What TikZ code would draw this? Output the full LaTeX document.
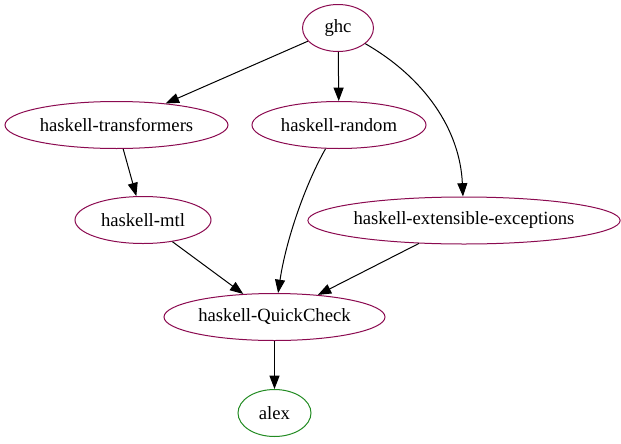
\documentclass[tikz,border=0pt]{standalone}
\usepackage{fontspec}
\setmainfont{Liberation Serif}
\usetikzlibrary{shapes.geometric,arrows.meta}
\definecolor{pkgborder}{RGB}{139,10,80}
\definecolor{leafborder}{RGB}{34,139,34}

\tikzset{every picture/.style={line width=0.75pt}}
\tikzset{
	pkg/.style={draw=pkgborder, ellipse, inner sep=0pt, minimum height=35.25pt, font=\fontsize{14}{16}\selectfont},
	leaf/.style={pkg, draw=leafborder},
	dep/.style={-{Triangle[length=10pt,width=7.5pt]}, draw=black},
}

\begin{document}
\begin{tikzpicture}[x=0.75pt,y=0.75pt,yscale=-1,xscale=1]
	\useasboundingbox (0,0) rectangle (621,443);

	%Shape: Ellipse [ghc]
	\node [pkg, minimum width=53.25pt] (ghc) at (338,28) {ghc};
	%Shape: Ellipse [transformers]
	\node [pkg, minimum width=167.25pt] (transformers) at (116.5,125) {haskell-transformers};
	%Shape: Ellipse [random]
	\node [pkg, minimum width=130.5pt] (random) at (339,125) {haskell-random};
	%Shape: Ellipse [mtl]
	\node [pkg, minimum width=102pt] (mtl) at (143,220) {haskell-mtl};
	%Shape: Ellipse [exceptions]
	\node [pkg, minimum width=228pt] (exceptions) at (464,220.5) {haskell-extensible-exceptions};
	%Shape: Ellipse [quickcheck]
	\node [pkg, minimum width=165.75pt] (quickcheck) at (274.5,317) {haskell-QuickCheck};
	%Shape: Ellipse [alex]
	\node [leaf, minimum width=54.75pt] (alex) at (274.5,413) {alex};

	%Straight Lines
	\draw [dep] (ghc) -- (transformers);
	\draw [dep] (ghc) -- (random);
	\draw [dep] (transformers) -- (mtl);
	\draw [dep] (mtl) -- (quickcheck);
	\draw [dep] (exceptions) -- (quickcheck);
	\draw [dep] (quickcheck) -- (alex);
	%Curve Lines
	\draw [dep] (ghc) .. controls (425,78) and (460,130) .. (exceptions);
	\draw [dep] (random) .. controls (305,185) and (286,240) .. (quickcheck);

\end{tikzpicture}
\end{document}
